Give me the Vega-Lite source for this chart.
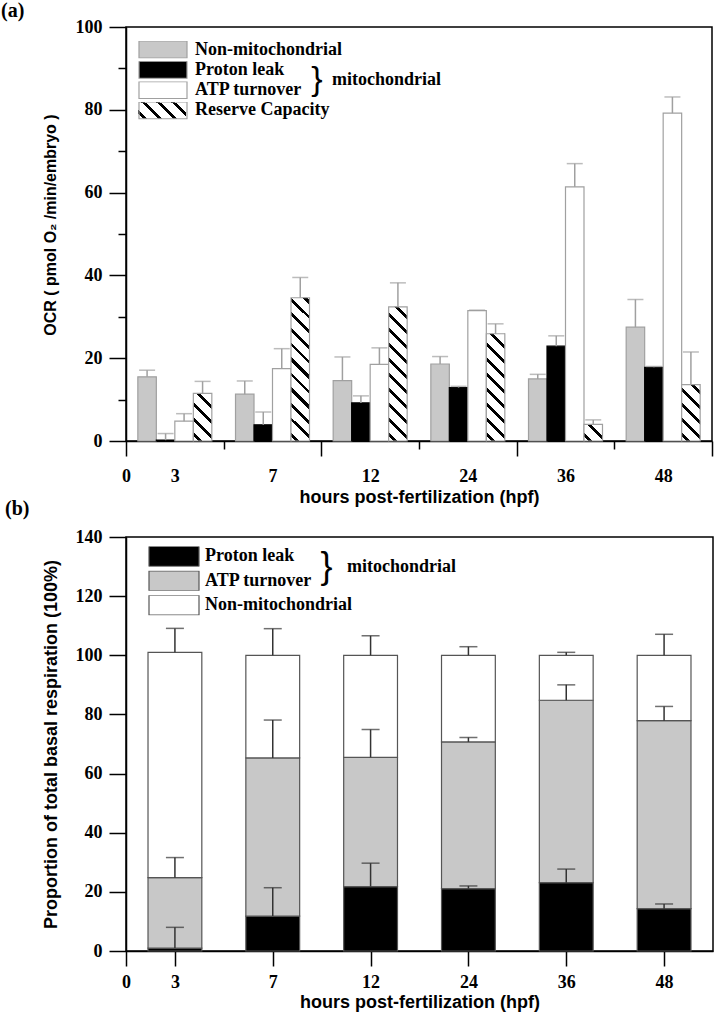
{
  "$schema": "https://vega.github.io/schema/vega-lite/v6.json",
  "background": "white",
  "padding": 0,
  "autosize": {"type": "pad"},
  "spacing": -11,
  "config": {
    "view": {"stroke": "#000", "strokeWidth": 1.5},
    "axis": {"grid": false, "domainColor": "#000", "domainWidth": 1.5, "tickColor": "#000", "tickWidth": 1.5, "labelFont": "Liberation Serif", "labelFontWeight": "bold", "labelFontSize": 18, "labelColor": "#000", "labelOverlap": false, "titleFont": "Liberation Sans", "titleFontWeight": "bold", "titleFontSize": 18, "titleColor": "#000"},
    "legend": {"labelFont": "Liberation Serif", "labelFontWeight": "bold", "labelFontSize": 18, "labelColor": "#000", "labelLimit": 400},
    "title": {"font": "Liberation Serif", "fontWeight": "bold", "fontSize": 20, "color": "#000", "anchor": "start", "frame": "group"}
  },
  "resolve": {"scale": {"fill": "independent"}},
  "vconcat": [
    {
      "width": 586,
      "height": 414,
      "title": {"text": "(a)", "dx": -125, "offset": -3.2},
      "resolve": {"scale": {"x": "independent"}},
      "layer": [
        {
          "data": {"values": [
            {"hpf": "3", "series": "Non-mitochondrial", "value": 15.5, "hi": 17.1},
            {"hpf": "3", "series": "Proton leak", "value": 0.2, "hi": 1.8},
            {"hpf": "3", "series": "ATP turnover", "value": 4.8, "hi": 6.6},
            {"hpf": "3", "series": "Reserve Capacity", "value": 11.5, "hi": 14.4},
            {"hpf": "7", "series": "Non-mitochondrial", "value": 11.3, "hi": 14.5},
            {"hpf": "7", "series": "Proton leak", "value": 3.9, "hi": 7.0},
            {"hpf": "7", "series": "ATP turnover", "value": 17.5, "hi": 22.3},
            {"hpf": "7", "series": "Reserve Capacity", "value": 34.6, "hi": 39.5},
            {"hpf": "12", "series": "Non-mitochondrial", "value": 14.6, "hi": 20.3},
            {"hpf": "12", "series": "Proton leak", "value": 9.2, "hi": 10.9},
            {"hpf": "12", "series": "ATP turnover", "value": 18.5, "hi": 22.5},
            {"hpf": "12", "series": "Reserve Capacity", "value": 32.4, "hi": 38.2},
            {"hpf": "24", "series": "Non-mitochondrial", "value": 18.6, "hi": 20.4},
            {"hpf": "24", "series": "Proton leak", "value": 12.9, "hi": 13.2},
            {"hpf": "24", "series": "ATP turnover", "value": 31.5, "hi": 31.6},
            {"hpf": "24", "series": "Reserve Capacity", "value": 25.9, "hi": 28.3},
            {"hpf": "36", "series": "Non-mitochondrial", "value": 15.0, "hi": 16.1},
            {"hpf": "36", "series": "Proton leak", "value": 22.9, "hi": 25.4},
            {"hpf": "36", "series": "ATP turnover", "value": 61.4, "hi": 67.0},
            {"hpf": "36", "series": "Reserve Capacity", "value": 4.0, "hi": 5.1},
            {"hpf": "48", "series": "Non-mitochondrial", "value": 27.5, "hi": 34.2},
            {"hpf": "48", "series": "Proton leak", "value": 17.8, "hi": 18.0},
            {"hpf": "48", "series": "ATP turnover", "value": 79.2, "hi": 83.1},
            {"hpf": "48", "series": "Reserve Capacity", "value": 13.6, "hi": 21.5}
          ]},
          "layer": [
            {
              "mark": {"type": "bar", "strokeWidth": 1.2},
              "encoding": {
                "x": {"field": "hpf", "type": "nominal", "sort": ["3", "7", "12", "24", "36", "48"], "scale": {"paddingInner": 0, "paddingOuter": 0}, "axis": null},
                "xOffset": {"field": "series", "type": "nominal", "sort": ["Non-mitochondrial", "Proton leak", "ATP turnover", "Reserve Capacity"], "scale": {"paddingInner": 0, "paddingOuter": 0.64}},
                "y": {"field": "value", "type": "quantitative", "scale": {"domain": [0, 100], "nice": false},
                  "axis": {"values": [0, 10, 20, 30, 40, 50, 60, 70, 80, 90, 100], "tickSize": {"condition": {"test": "datum.value % 20 !== 0", "value": 8}, "value": 17}, "labelExpr": "datum.value % 20 === 0 ? datum.label : ''", "labelPadding": 7, "title": "OCR ( pmol O₂ /min/embryo )", "titleFontSize": 16, "titleX": -68, "titleY": 197.5}},
                "stroke": {"condition": {"test": "datum.series === 'Proton leak'", "value": "#000"}, "value": "#a0a0a0"},
                "fill": {
                  "field": "series", "type": "nominal",
                  "scale": {"domain": ["Non-mitochondrial", "Proton leak", "ATP turnover", "Reserve Capacity"], "range": ["#c8c8c8", "#000000", "#ffffff", "transparent"]},
                  "legend": {
                    "orient": "none", "legendX": 12, "legendY": 14, "title": null,
                    "symbolType": "M-1.412,-0.5H1.412V0.5H-1.412Z", "symbolSize": 1156,
                    "clipHeight": 17, "rowPadding": 1.3, "symbolOffset": 7, "labelOffset": 14,
                    "symbolStrokeColor": "#a0a0a0", "symbolStrokeWidth": 1.2
                  },
                  "condition": [
                    {"test": "datum.series === 'Reserve Capacity' && datum.hpf === '3'", "value": {"gradient": "linear", "x1": 0, "y1": 1, "x2": 0.4688, "y2": -0.2064, "stops": [
                      {"offset": 0, "color": "#fff"},
                      {"offset": 0.0756, "color": "#fff"}, {"offset": 0.0756, "color": "#000"}, {"offset": 0.1361, "color": "#000"}, {"offset": 0.1361, "color": "#fff"},
                      {"offset": 0.3025, "color": "#fff"}, {"offset": 0.3025, "color": "#000"}, {"offset": 0.363, "color": "#000"}, {"offset": 0.363, "color": "#fff"},
                      {"offset": 0.5294, "color": "#fff"}, {"offset": 0.5294, "color": "#000"}, {"offset": 0.5899, "color": "#000"}, {"offset": 0.5899, "color": "#fff"},
                      {"offset": 0.7563, "color": "#fff"}, {"offset": 0.7563, "color": "#000"}, {"offset": 0.8168, "color": "#000"}, {"offset": 0.8168, "color": "#fff"},
                      {"offset": 0.9832, "color": "#fff"}, {"offset": 0.9832, "color": "#000"}, {"offset": 1, "color": "#000"}]}},
                    {"test": "datum.series === 'Reserve Capacity' && datum.hpf === '7'", "value": {"gradient": "linear", "x1": 0, "y1": 1, "x2": 0.1434, "y2": -0.1106, "stops": [
                      {"offset": 0, "color": "#fff"},
                      {"offset": 0.0309, "color": "#fff"}, {"offset": 0.0309, "color": "#000"}, {"offset": 0.0556, "color": "#000"}, {"offset": 0.0556, "color": "#fff"},
                      {"offset": 0.1237, "color": "#fff"}, {"offset": 0.1237, "color": "#000"}, {"offset": 0.1484, "color": "#000"}, {"offset": 0.1484, "color": "#fff"},
                      {"offset": 0.2164, "color": "#fff"}, {"offset": 0.2164, "color": "#000"}, {"offset": 0.2411, "color": "#000"}, {"offset": 0.2411, "color": "#fff"},
                      {"offset": 0.3091, "color": "#fff"}, {"offset": 0.3091, "color": "#000"}, {"offset": 0.3339, "color": "#000"}, {"offset": 0.3339, "color": "#fff"},
                      {"offset": 0.4019, "color": "#fff"}, {"offset": 0.4019, "color": "#000"}, {"offset": 0.4266, "color": "#000"}, {"offset": 0.4266, "color": "#fff"},
                      {"offset": 0.4946, "color": "#fff"}, {"offset": 0.4946, "color": "#000"}, {"offset": 0.5194, "color": "#000"}, {"offset": 0.5194, "color": "#fff"},
                      {"offset": 0.5874, "color": "#fff"}, {"offset": 0.5874, "color": "#000"}, {"offset": 0.6121, "color": "#000"}, {"offset": 0.6121, "color": "#fff"},
                      {"offset": 0.6801, "color": "#fff"}, {"offset": 0.6801, "color": "#000"}, {"offset": 0.7048, "color": "#000"}, {"offset": 0.7048, "color": "#fff"},
                      {"offset": 0.7729, "color": "#fff"}, {"offset": 0.7729, "color": "#000"}, {"offset": 0.7976, "color": "#000"}, {"offset": 0.7976, "color": "#fff"},
                      {"offset": 0.8656, "color": "#fff"}, {"offset": 0.8656, "color": "#000"}, {"offset": 0.8903, "color": "#000"}, {"offset": 0.8903, "color": "#fff"},
                      {"offset": 0.9583, "color": "#fff"}, {"offset": 0.9583, "color": "#000"}, {"offset": 0.9831, "color": "#000"}, {"offset": 0.9831, "color": "#fff"},
                      {"offset": 1, "color": "#fff"}]}},
                    {"test": "datum.series === 'Reserve Capacity' && datum.hpf === '12'", "value": {"gradient": "linear", "x1": 0, "y1": 1, "x2": 0.154, "y2": -0.1167, "stops": [
                      {"offset": 0, "color": "#fff"},
                      {"offset": 0.0328, "color": "#fff"}, {"offset": 0.0328, "color": "#000"}, {"offset": 0.059, "color": "#000"}, {"offset": 0.059, "color": "#fff"},
                      {"offset": 0.131, "color": "#fff"}, {"offset": 0.131, "color": "#000"}, {"offset": 0.1572, "color": "#000"}, {"offset": 0.1572, "color": "#fff"},
                      {"offset": 0.2293, "color": "#fff"}, {"offset": 0.2293, "color": "#000"}, {"offset": 0.2555, "color": "#000"}, {"offset": 0.2555, "color": "#fff"},
                      {"offset": 0.3276, "color": "#fff"}, {"offset": 0.3276, "color": "#000"}, {"offset": 0.3538, "color": "#000"}, {"offset": 0.3538, "color": "#fff"},
                      {"offset": 0.4258, "color": "#fff"}, {"offset": 0.4258, "color": "#000"}, {"offset": 0.452, "color": "#000"}, {"offset": 0.452, "color": "#fff"},
                      {"offset": 0.5241, "color": "#fff"}, {"offset": 0.5241, "color": "#000"}, {"offset": 0.5503, "color": "#000"}, {"offset": 0.5503, "color": "#fff"},
                      {"offset": 0.6224, "color": "#fff"}, {"offset": 0.6224, "color": "#000"}, {"offset": 0.6486, "color": "#000"}, {"offset": 0.6486, "color": "#fff"},
                      {"offset": 0.7207, "color": "#fff"}, {"offset": 0.7207, "color": "#000"}, {"offset": 0.7469, "color": "#000"}, {"offset": 0.7469, "color": "#fff"},
                      {"offset": 0.8189, "color": "#fff"}, {"offset": 0.8189, "color": "#000"}, {"offset": 0.8451, "color": "#000"}, {"offset": 0.8451, "color": "#fff"},
                      {"offset": 0.9172, "color": "#fff"}, {"offset": 0.9172, "color": "#000"}, {"offset": 0.9434, "color": "#000"}, {"offset": 0.9434, "color": "#fff"},
                      {"offset": 1, "color": "#fff"}]}},
                    {"test": "datum.series === 'Reserve Capacity' && datum.hpf === '24'", "value": {"gradient": "linear", "x1": 0, "y1": 1, "x2": 0.1965, "y2": -0.1386, "stops": [
                      {"offset": 0, "color": "#fff"},
                      {"offset": 0.0398, "color": "#fff"}, {"offset": 0.0398, "color": "#000"}, {"offset": 0.0716, "color": "#000"}, {"offset": 0.0716, "color": "#fff"},
                      {"offset": 0.1591, "color": "#fff"}, {"offset": 0.1591, "color": "#000"}, {"offset": 0.1909, "color": "#000"}, {"offset": 0.1909, "color": "#fff"},
                      {"offset": 0.2784, "color": "#fff"}, {"offset": 0.2784, "color": "#000"}, {"offset": 0.3102, "color": "#000"}, {"offset": 0.3102, "color": "#fff"},
                      {"offset": 0.3977, "color": "#fff"}, {"offset": 0.3977, "color": "#000"}, {"offset": 0.4295, "color": "#000"}, {"offset": 0.4295, "color": "#fff"},
                      {"offset": 0.517, "color": "#fff"}, {"offset": 0.517, "color": "#000"}, {"offset": 0.5488, "color": "#000"}, {"offset": 0.5488, "color": "#fff"},
                      {"offset": 0.6363, "color": "#fff"}, {"offset": 0.6363, "color": "#000"}, {"offset": 0.6681, "color": "#000"}, {"offset": 0.6681, "color": "#fff"},
                      {"offset": 0.7556, "color": "#fff"}, {"offset": 0.7556, "color": "#000"}, {"offset": 0.7874, "color": "#000"}, {"offset": 0.7874, "color": "#fff"},
                      {"offset": 0.8749, "color": "#fff"}, {"offset": 0.8749, "color": "#000"}, {"offset": 0.9067, "color": "#000"}, {"offset": 0.9067, "color": "#fff"},
                      {"offset": 0.9942, "color": "#fff"}, {"offset": 0.9942, "color": "#000"}, {"offset": 1, "color": "#000"}]}},
                    {"test": "datum.series === 'Reserve Capacity' && datum.hpf === '36'", "value": {"gradient": "linear", "x1": 0, "y1": 1, "x2": 1.0521, "y2": 0.0582, "stops": [
                      {"offset": 0, "color": "#fff"},
                      {"offset": 0.1426, "color": "#fff"}, {"offset": 0.1426, "color": "#000"}, {"offset": 0.2567, "color": "#000"}, {"offset": 0.2567, "color": "#fff"},
                      {"offset": 0.5705, "color": "#fff"}, {"offset": 0.5705, "color": "#000"}, {"offset": 0.6845, "color": "#000"}, {"offset": 0.6845, "color": "#fff"},
                      {"offset": 1, "color": "#fff"}]}},
                    {"test": "datum.series === 'Reserve Capacity' && datum.hpf === '48'", "value": {"gradient": "linear", "x1": 0, "y1": 1, "x2": 0.394, "y2": -0.1991, "stops": [
                      {"offset": 0, "color": "#fff"},
                      {"offset": 0.0668, "color": "#fff"}, {"offset": 0.0668, "color": "#000"}, {"offset": 0.1203, "color": "#000"}, {"offset": 0.1203, "color": "#fff"},
                      {"offset": 0.2674, "color": "#fff"}, {"offset": 0.2674, "color": "#000"}, {"offset": 0.3209, "color": "#000"}, {"offset": 0.3209, "color": "#fff"},
                      {"offset": 0.4679, "color": "#fff"}, {"offset": 0.4679, "color": "#000"}, {"offset": 0.5214, "color": "#000"}, {"offset": 0.5214, "color": "#fff"},
                      {"offset": 0.6684, "color": "#fff"}, {"offset": 0.6684, "color": "#000"}, {"offset": 0.7219, "color": "#000"}, {"offset": 0.7219, "color": "#fff"},
                      {"offset": 0.869, "color": "#fff"}, {"offset": 0.869, "color": "#000"}, {"offset": 0.9225, "color": "#000"}, {"offset": 0.9225, "color": "#fff"},
                      {"offset": 1, "color": "#fff"}]}}
                  ]
                }
              }
            },
            {
              "mark": {"type": "rule", "color": "#a0a0a0", "strokeWidth": 1.5},
              "encoding": {
                "x": {"field": "hpf", "type": "nominal", "sort": ["3", "7", "12", "24", "36", "48"]},
                "xOffset": {"field": "series", "type": "nominal", "sort": ["Non-mitochondrial", "Proton leak", "ATP turnover", "Reserve Capacity"]},
                "y": {"field": "value", "type": "quantitative"},
                "y2": {"field": "hi"}
              }
            },
            {
              "mark": {"type": "tick", "color": "#a0a0a0", "thickness": 1.5, "size": 16, "orient": "horizontal"},
              "encoding": {
                "x": {"field": "hpf", "type": "nominal", "sort": ["3", "7", "12", "24", "36", "48"]},
                "xOffset": {"field": "series", "type": "nominal", "sort": ["Non-mitochondrial", "Proton leak", "ATP turnover", "Reserve Capacity"]},
                "y": {"field": "hi", "type": "quantitative"}
              }
            }
          ]
        },
        {
          "layer": [
            {
              "data": {"values": [{"t": "}"}]},
              "mark": {"type": "text", "font": "Liberation Sans", "fontSize": 34, "align": "center", "baseline": "middle", "color": "#000"},
              "encoding": {
                "x": {"datum": 1.956, "type": "quantitative", "scale": {"domain": [0, 6], "nice": false, "zero": false},
                  "axis": {"orient": "bottom", "values": [0, 0.5, 1, 1.5, 2, 2.5, 3, 3.5, 4, 4.5, 5, 5.5, 6],
                    "tickSize": {"condition": {"test": "datum.value % 2 === 1", "value": 8}, "value": 15},
                    "tickOpacity": {"condition": {"test": "datum.value % 1 !== 0", "value": 0}, "value": 1},
                    "labelExpr": "datum.value == 0 ? '0' : (datum.value % 1 == 0.5 ? ['3','7','12','24','36','48'][floor(datum.value)] : '')",
                    "labelPadding": 11.3, "labelFlush": false, "title": "hours post-fertilization (hpf)", "titlePadding": 3}},
                "y": {"datum": 87.3, "type": "quantitative"},
                "text": {"field": "t"}
              }
            },
            {
              "data": {"values": [{"t": "mitochondrial"}]},
              "mark": {"type": "text", "font": "Liberation Serif", "fontWeight": "bold", "fontSize": 18, "align": "left", "baseline": "alphabetic", "color": "#000"},
              "encoding": {
                "x": {"datum": 2.109, "type": "quantitative"},
                "y": {"datum": 86.06, "type": "quantitative"},
                "text": {"field": "t"}
              }
            },
            {
              "data": {"values": [{"key": "Reserve Capacity"}]},
              "mark": {"type": "rect", "strokeWidth": 0, "fill": {"gradient": "linear", "x1": 0, "y1": 1, "x2": 1.2032, "y2": 0.5739, "stops": [
                {"offset": 0, "color": "#fff"},
                {"offset": 0.0769, "color": "#fff"}, {"offset": 0.0769, "color": "#000"}, {"offset": 0.1385, "color": "#000"}, {"offset": 0.1385, "color": "#fff"},
                {"offset": 0.3077, "color": "#fff"}, {"offset": 0.3077, "color": "#000"}, {"offset": 0.3692, "color": "#000"}, {"offset": 0.3692, "color": "#fff"},
                {"offset": 0.5385, "color": "#fff"}, {"offset": 0.5385, "color": "#000"}, {"offset": 0.6, "color": "#000"}, {"offset": 0.6, "color": "#fff"},
                {"offset": 0.7692, "color": "#fff"}, {"offset": 0.7692, "color": "#000"}, {"offset": 0.8308, "color": "#000"}, {"offset": 0.8308, "color": "#fff"},
                {"offset": 1, "color": "#fff"}]}},
              "encoding": {
                "x": {"datum": 0.1229, "type": "quantitative"},
                "x2": {"datum": 0.6143},
                "y": {"datum": 81.88, "type": "quantitative"},
                "y2": {"datum": 77.85}
              }
            }
          ]
        }
      ]
    },
    {
      "width": 587,
      "height": 414,
      "title": {"text": "(b)", "dx": -121, "offset": 9.5},
      "resolve": {"scale": {"x": "independent"}},
      "layer": [
        {
          "data": {"values": [
            {"hpf": "3", "comp": "Proton leak", "from": 0, "to": 1.0, "sd": 8.0},
            {"hpf": "3", "comp": "ATP turnover", "from": 1.0, "to": 24.8, "sd": 31.6},
            {"hpf": "3", "comp": "Non-mitochondrial", "from": 24.8, "to": 101.0, "sd": 109.1},
            {"hpf": "7", "comp": "Proton leak", "from": 0, "to": 11.8, "sd": 21.4},
            {"hpf": "7", "comp": "ATP turnover", "from": 11.8, "to": 65.3, "sd": 78.1},
            {"hpf": "7", "comp": "Non-mitochondrial", "from": 65.3, "to": 100.0, "sd": 109.0},
            {"hpf": "12", "comp": "Proton leak", "from": 0, "to": 21.8, "sd": 29.7},
            {"hpf": "12", "comp": "ATP turnover", "from": 21.8, "to": 65.5, "sd": 74.9},
            {"hpf": "12", "comp": "Non-mitochondrial", "from": 65.5, "to": 100.0, "sd": 106.6},
            {"hpf": "24", "comp": "Proton leak", "from": 0, "to": 21.1, "sd": 22.0},
            {"hpf": "24", "comp": "ATP turnover", "from": 21.1, "to": 70.7, "sd": 72.2},
            {"hpf": "24", "comp": "Non-mitochondrial", "from": 70.7, "to": 100.0, "sd": 102.9},
            {"hpf": "36", "comp": "Proton leak", "from": 0, "to": 23.1, "sd": 27.7},
            {"hpf": "36", "comp": "ATP turnover", "from": 23.1, "to": 84.8, "sd": 90.0},
            {"hpf": "36", "comp": "Non-mitochondrial", "from": 84.8, "to": 100.0, "sd": 101.0},
            {"hpf": "48", "comp": "Proton leak", "from": 0, "to": 14.3, "sd": 15.9},
            {"hpf": "48", "comp": "ATP turnover", "from": 14.3, "to": 77.9, "sd": 82.7},
            {"hpf": "48", "comp": "Non-mitochondrial", "from": 77.9, "to": 100.0, "sd": 107.1}
          ]},
          "layer": [
            {
              "mark": {"type": "bar", "stroke": "#555", "strokeWidth": 1.2},
              "encoding": {
                "x": {"field": "hpf", "type": "nominal", "sort": ["3", "7", "12", "24", "36", "48"], "scale": {"paddingInner": 0.45, "paddingOuter": 0.225}, "axis": null},
                "y": {"field": "from", "type": "quantitative", "scale": {"domain": [0, 140], "nice": false},
                  "axis": {"values": [0, 10, 20, 30, 40, 50, 60, 70, 80, 90, 100, 110, 120, 130, 140], "tickSize": {"condition": {"test": "datum.value % 20 !== 0", "value": 8}, "value": 17}, "labelExpr": "datum.value % 20 === 0 ? datum.label : ''", "labelPadding": 7, "title": "Proportion of total basal respiration (100%)", "titlePadding": 15}},
                "y2": {"field": "to"},
                "fill": {
                  "field": "comp", "type": "nominal",
                  "scale": {"domain": ["Proton leak", "ATP turnover", "Non-mitochondrial"], "range": ["#000000", "#c8c8c8", "#ffffff"]},
                  "legend": {
                    "orient": "none", "legendX": 22, "legendY": 9.4, "title": null,
                    "symbolType": "M-1.25,-0.5H1.25V0.5H-1.25Z", "symbolSize": 1600,
                    "clipHeight": 20, "rowPadding": 4.4, "symbolOffset": 5, "labelOffset": 10,
                    "symbolStrokeColor": "#555", "symbolStrokeWidth": 1.2
                  }
                }
              }
            },
            {
              "mark": {"type": "rule", "color": "#333", "strokeWidth": 1.5},
              "encoding": {
                "x": {"field": "hpf", "type": "nominal", "sort": ["3", "7", "12", "24", "36", "48"]},
                "y": {"field": "to", "type": "quantitative"},
                "y2": {"field": "sd"}
              }
            },
            {
              "mark": {"type": "tick", "color": "#333", "thickness": 1.5, "size": 18, "orient": "horizontal"},
              "encoding": {
                "x": {"field": "hpf", "type": "nominal", "sort": ["3", "7", "12", "24", "36", "48"]},
                "y": {"field": "sd", "type": "quantitative"}
              }
            }
          ]
        },
        {
          "layer": [
            {
              "data": {"values": [{"t": "}"}]},
              "mark": {"type": "text", "font": "Liberation Sans", "fontSize": 36, "align": "center", "baseline": "middle", "color": "#000"},
              "encoding": {
                "x": {"datum": 2.05, "type": "quantitative", "scale": {"domain": [0, 6], "nice": false, "zero": false},
                  "axis": {"orient": "bottom", "values": [0, 0.5, 1.5, 2.5, 3.5, 4.5, 5.5], "tickSize": 15,
                    "labelExpr": "datum.value == 0 ? '0' : (datum.value % 1 == 0.5 ? ['3','7','12','24','36','48'][floor(datum.value)] : '')",
                    "labelPadding": 7, "labelFlush": false, "title": "hours post-fertilization (hpf)", "titlePadding": 2}},
                "y": {"datum": 129.8, "type": "quantitative"},
                "text": {"field": "t"}
              }
            },
            {
              "data": {"values": [{"t": "mitochondrial"}]},
              "mark": {"type": "text", "font": "Liberation Serif", "fontWeight": "bold", "fontSize": 18, "align": "left", "baseline": "alphabetic", "color": "#000"},
              "encoding": {
                "x": {"datum": 2.26, "type": "quantitative"},
                "y": {"datum": 128.1, "type": "quantitative"},
                "text": {"field": "t"}
              }
            }
          ]
        }
      ]
    }
  ]
}
